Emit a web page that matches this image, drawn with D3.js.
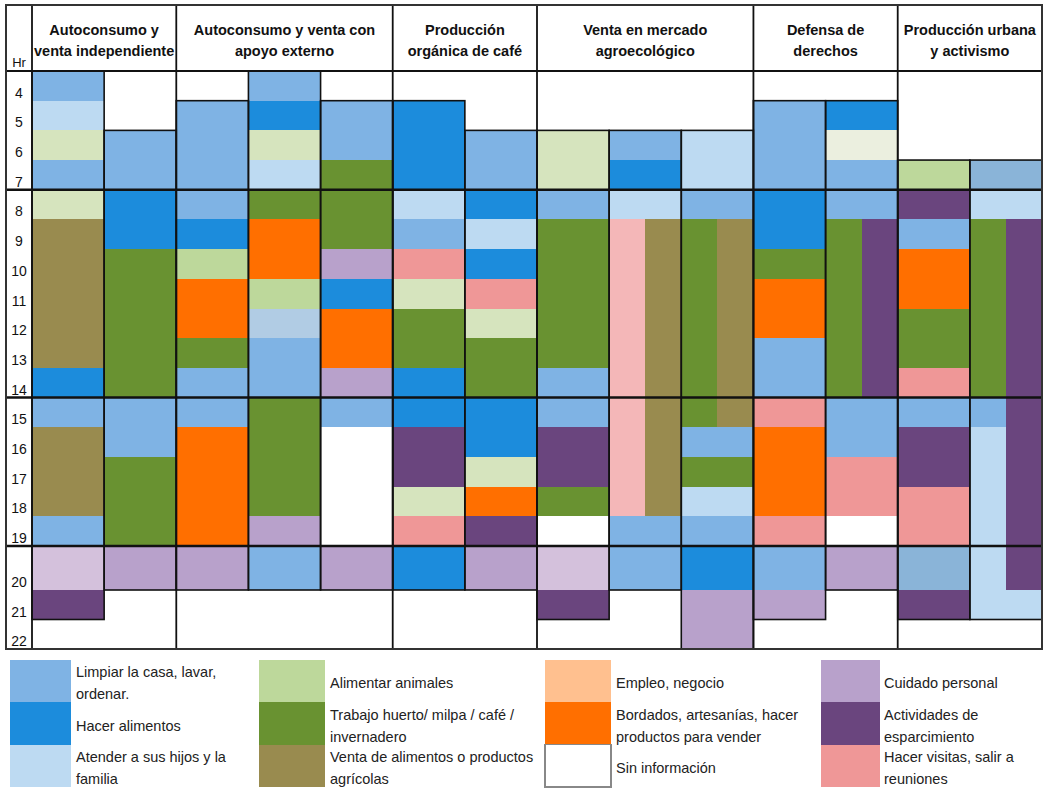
<html>
<head>
  <meta charset='utf-8' />
  <style>
    text { font-family: 'Liberation Sans', Arial, sans-serif; }
  </style>
</head>

<body style='padding: 0; margin: 0; background-color: white;'>
  <svg style='width: 1048px; height: 792px; display: block;'>
  </svg>
</body>

<script src="https://d3js.org/d3.v7.min.js"></script>

<script>
///////////////////
/// Data
///////////////////

  const groupTitles = [
    ['Autoconsumo y', 'venta independiente'],
    ['Autoconsumo y venta con', 'apoyo externo'],
    ['Producción', 'orgánica de café'],
    ['Venta en mercado', 'agroecológico'],
    ['Defensa de', 'derechos'],
    ['Producción urbana', 'y activismo']
  ];
  // how many women (columns) in each group
  const groupSizes = [2, 3, 2, 3, 2, 2];

  const hourLabels = [4, 5, 6, 7, 8, 9, 10, 11, 12, 13, 14, 15, 16, 17, 18, 19, 20, 21, 22];
  const periodBreaks = [8, 15, 20];

  // [from hour, to hour, activity, half ('L' / 'R' when two things at once)]
  const col1 = [[4,5,'limpiar'],[5,6,'hijos'],[6,7,'animalesClaro'],[7,8,'limpiar'],[8,9,'animalesClaro'],
    [9,14,'venta'],[14,15,'alimentos'],[15,16,'limpiar'],[16,19,'venta'],[19,20,'limpiar'],
    [20,21,'cuidadoClaro'],[21,22,'esparcimiento']];
  const col2 = [[6,8,'limpiar'],[8,10,'alimentos'],[10,15,'huerto'],[15,17,'limpiar'],[17,20,'huerto'],[20,21,'cuidado']];
  const col3 = [[5,9,'limpiar'],[9,10,'alimentos'],[10,11,'animales'],[11,13,'bordados'],[13,14,'huerto'],
    [14,16,'limpiar'],[16,20,'bordados'],[20,21,'cuidado']];
  const col4 = [[4,5,'limpiar'],[5,6,'alimentos'],[6,7,'animalesClaro'],[7,8,'hijos'],[8,9,'huerto'],
    [9,11,'bordados'],[11,12,'animales'],[12,13,'azulPalido'],[13,15,'limpiar'],[15,19,'huerto'],
    [19,20,'cuidado'],[20,21,'limpiar']];
  const col5 = [[5,7,'limpiar'],[7,10,'huerto'],[10,11,'cuidado'],[11,12,'alimentos'],[12,14,'bordados'],
    [14,15,'cuidado'],[15,16,'limpiar'],[20,21,'cuidado']];
  const col6 = [[5,8,'alimentos'],[8,9,'hijos'],[9,10,'limpiar'],[10,11,'visitas'],[11,12,'animalesClaro'],
    [12,14,'huerto'],[14,16,'alimentos'],[16,18,'esparcimiento'],[18,19,'animalesClaro'],[19,20,'visitas'],
    [20,21,'alimentos']];
  const col7 = [[6,8,'limpiar'],[8,9,'alimentos'],[9,10,'hijos'],[10,11,'alimentos'],[11,12,'visitas'],
    [12,13,'animalesClaro'],[13,15,'huerto'],[15,17,'alimentos'],[17,18,'animalesClaro'],[18,19,'bordados'],
    [19,20,'esparcimiento'],[20,21,'cuidado']];
  const col8 = [[6,8,'animalesClaro'],[8,9,'limpiar'],[9,14,'huerto'],[14,16,'limpiar'],[16,18,'esparcimiento'],
    [18,19,'huerto'],[20,21,'cuidadoClaro'],[21,22,'esparcimiento']];
  const col9 = [[6,7,'limpiar'],[7,8,'alimentos'],[8,9,'hijos'],[9,19,'visitasClaro','L'],[9,19,'venta','R'],
    [19,21,'limpiar']];
  const col10 = [[6,8,'hijos'],[8,9,'limpiar'],[9,16,'huerto','L'],[9,16,'venta','R'],[16,17,'limpiar'],
    [17,18,'huerto'],[18,19,'hijos'],[19,20,'limpiar'],[20,21,'alimentos'],[21,23,'cuidado']];
  const col11 = [[5,8,'limpiar'],[8,10,'alimentos'],[10,11,'huerto'],[11,13,'bordados'],[13,15,'limpiar'],
    [15,16,'visitas'],[16,19,'bordados'],[19,20,'visitas'],[20,21,'limpiar'],[21,22,'cuidado']];
  const col12 = [[5,6,'alimentos'],[6,7,'crema'],[7,9,'limpiar'],[9,15,'huerto','L'],[9,15,'esparcimiento','R'],
    [15,17,'limpiar'],[17,19,'visitas'],[20,21,'cuidado']];
  const col13 = [[7,8,'animales'],[8,9,'esparcimiento'],[9,10,'limpiar'],[10,12,'bordados'],[12,14,'huerto'],
    [14,15,'visitas'],[15,16,'limpiar'],[16,18,'esparcimiento'],[18,20,'visitas'],[20,21,'azulGris'],
    [21,22,'esparcimiento']];
  const col14 = [[7,8,'azulGris'],[8,9,'hijos'],[9,15,'huerto','L'],[15,16,'limpiar','L'],[16,21,'hijos','L'],
    [9,21,'esparcimiento','R'],[21,22,'hijos']];

  const columns = [col1, col2, col3, col4, col5, col6, col7, col8, col9, col10, col11, col12, col13, col14];

  // legend, read down each column
  const legendKeys = ['limpiar', 'alimentos', 'hijos', 'animales', 'huerto', 'venta',
    'empleo', 'bordados', 'sinInfo', 'cuidado', 'esparcimiento', 'visitas'];
  const legendLabels = [
    ['Limpiar la casa, lavar,', 'ordenar.'], ['Hacer alimentos'], ['Atender a sus hijos y la', 'familia'],
    ['Alimentar animales'], ['Trabajo huerto/ milpa / café /', 'invernadero'], ['Venta de alimentos o productos', 'agrícolas'],
    ['Empleo, negocio'], ['Bordados, artesanías, hacer', 'productos para vender'], ['Sin información'],
    ['Cuidado personal'], ['Actividades de', 'esparcimiento'], ['Hacer visitas, salir a', 'reuniones']
  ];

  const palette = {
    limpiar: '#7fb3e4', alimentos: '#1c8cdc', hijos: '#bddaf2',
    animales: '#bdd89b', animalesClaro: '#d6e4be', huerto: '#699231', venta: '#998b4f',
    empleo: '#ffc08f', bordados: '#ff6f00', sinInfo: '#ffffff',
    cuidado: '#b8a1cb', cuidadoClaro: '#d4c1dc', esparcimiento: '#6a457e',
    visitas: '#ef9797', visitasClaro: '#f4b7b8', crema: '#ebefdf', azulGris: '#8ab4d8', azulPalido: '#b1cce4'
  };

///////////////////
/// Scales
///////////////////

  const svg = d3.select('svg');

  const x = d3.scaleBand()
    .domain(d3.range(columns.length))
    .range([32, 1042]);

  // left edge of a column, or the right border after the last one
  const colEdge = i => i < columns.length ? x(i) : 1042;

  // the 20h row is drawn taller than the others
  const y = d3.scaleLinear()
    .domain([4, 20, 21, 23])
    .range([71, 546, 590, 649]);

///////////////////
/// Cells
///////////////////

  const cells = columns.flatMap((segs, i) =>
    segs.map(s => ({col: i, from: s[0], to: s[1], key: s[2], half: s[3]})));

  svg.append('g')
    .attr('id', 'cells')
    .selectAll('rect')
    .data(cells)
    .enter().append('rect')
    .attr('x', d => x(d.col) + (d.half === 'R' ? x.bandwidth() / 2 : 0))
    .attr('width', d => d.half ? x.bandwidth() / 2 : x.bandwidth())
    .attr('y', d => y(d.from))
    .attr('height', d => y(d.to) - y(d.from))
    .attr('fill', d => palette[d.key])
    .attr('shape-rendering', 'crispEdges');

  // outline around what each woman reported
  svg.append('g')
    .attr('id', 'outlines')
    .selectAll('rect')
    .data(columns)
    .enter().append('rect')
    .attr('x', (d, i) => x(i))
    .attr('width', x.bandwidth())
    .attr('y', d => y(d3.min(d, s => s[0])))
    .attr('height', d => y(d3.max(d, s => s[1])) - y(d3.min(d, s => s[0])))
    .attr('fill', 'none')
    .attr('stroke', '#111')
    .attr('stroke-width', 1.6);

///////////////////
/// Grid lines
///////////////////

  const lines = svg.append('g').attr('id', 'lines');

  const groupEdges = [0, ...d3.cumsum(groupSizes)];

  lines.selectAll('.gdiv')
    .data(groupEdges)
    .enter().append('line')
    .attr('x1', d => colEdge(d))
    .attr('x2', d => colEdge(d))
    .attr('y1', 5)
    .attr('y2', 649)
    .attr('stroke', '#111')
    .attr('stroke-width', 1.8);

  lines.selectAll('.period')
    .data(periodBreaks)
    .enter().append('line')
    .attr('x1', 6)
    .attr('x2', 1042)
    .attr('y1', d => y(d))
    .attr('y2', d => y(d))
    .attr('stroke', '#111')
    .attr('stroke-width', 2.6);

  lines.append('line')
    .attr('x1', 6).attr('x2', 1042)
    .attr('y1', 71).attr('y2', 71)
    .attr('stroke', '#111')
    .attr('stroke-width', 2);

  lines.append('rect')
    .attr('x', 6).attr('y', 5)
    .attr('width', 1036).attr('height', 644)
    .attr('fill', 'none')
    .attr('stroke', '#333')
    .attr('stroke-width', 2);

///////////////////
/// Headers and hours
///////////////////

  const headers = svg.append('g').attr('id', 'headers');

  headers.selectAll('.title')
    .data(groupTitles)
    .enter().append('text')
    .attr('class', 'title')
    .attr('text-anchor', 'middle')
    .attr('transform', (d, i) => `translate(${(colEdge(groupEdges[i]) + colEdge(groupEdges[i + 1])) / 2}, 0)`)
    .style('font-size', '14.5px')
    .style('font-weight', 'bold')
    .attr('fill', '#111')
    .selectAll('tspan')
    .data(d => d)
    .enter().append('tspan')
    .attr('x', 0)
    .attr('y', (d, i) => 35 + i * 21)
    .text(d => d);

  headers.append('text')
    .attr('x', 19)
    .attr('y', 67)
    .attr('text-anchor', 'middle')
    .style('font-size', '13px')
    .attr('fill', '#111')
    .text('Hr');

  headers.selectAll('.hour')
    .data(hourLabels)
    .enter().append('text')
    .attr('class', 'hour')
    .attr('x', 19)
    .attr('y', d => y(d + 1) - 3)
    .attr('text-anchor', 'middle')
    .style('font-size', '14px')
    .attr('fill', '#111')
    .text(d => d);

///////////////////
/// Legend
///////////////////

  const legendX = [10, 259, 545, 821];
  const legendW = [61, 66, 66, 59];
  const legendTextX = [76, 330, 616, 884];

  const legendY = d3.scaleBand()
    .domain([0, 1, 2])
    .range([660, 787]);

  const legend = svg.append('g')
    .attr('id', 'legend')
    .selectAll('g')
    .data(legendKeys)
    .enter().append('g');

  legend.append('rect')
    .attr('x', (d, i) => legendX[Math.floor(i / 3)])
    .attr('y', (d, i) => legendY(i % 3))
    .attr('width', (d, i) => legendW[Math.floor(i / 3)])
    .attr('height', legendY.bandwidth())
    .attr('fill', d => palette[d])
    .attr('stroke', d => d === 'sinInfo' ? '#888' : 'none')
    .attr('stroke-width', 1.2)
    .attr('shape-rendering', 'crispEdges');

  legend.append('text')
    .attr('transform', (d, i) => `translate(${legendTextX[Math.floor(i / 3)]}, ${legendY(i % 3) + legendY.bandwidth() / 2 + 2})`)
    .style('font-size', '14.5px')
    .attr('fill', '#222')
    .selectAll('tspan')
    .data((d, i) => legendLabels[i].map((t, j, arr) => ({t: t, j: j, n: arr.length})))
    .enter().append('tspan')
    .attr('x', 0)
    .attr('y', d => 5 + (d.j - (d.n - 1) / 2) * 22)
    .text(d => d.t);

</script>
</html>
